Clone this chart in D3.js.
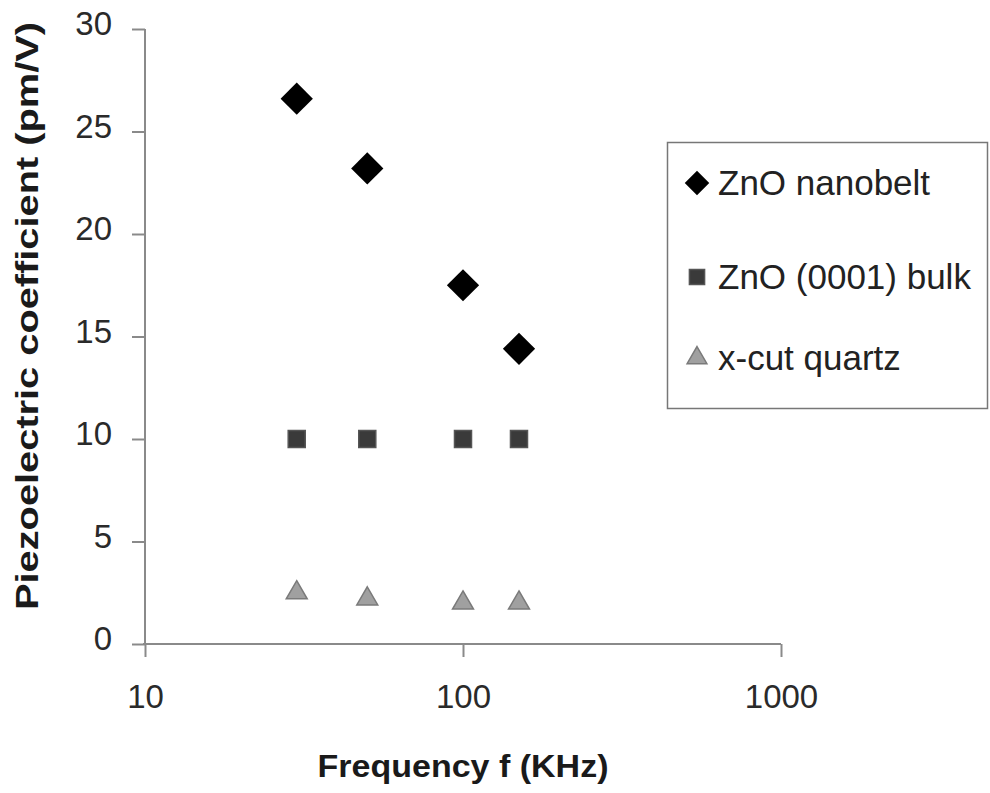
<!DOCTYPE html>
<html>
<head>
<meta charset="utf-8">
<script src="https://cdn.jsdelivr.net/npm/d3@7"></script>
<style>
  body { margin: 0; background: #fff; }
  svg text { font-family: "Liberation Sans", Arial, sans-serif; }
</style>
</head>
<body>
<script>
// Fréquences (KHz) et coefficients piézoélectriques (pm/V)
const frequencies = [30, 50, 100, 150]
const nanobelt = [26.6, 23.2, 17.5, 14.4]
const bulk = [10, 10, 10, 10]
const quartz = [2.5, 2.2, 2.0, 2.0]

const seriesNames = ["ZnO nanobelt", "ZnO (0001) bulk", "x-cut quartz"]
const yTicks = [0, 5, 10, 15, 20, 25, 30]
const xTicks = [10, 100, 1000]

const width = 990, height = 793
const margin = { top: 29, right: 209, bottom: 149, left: 145 }

const svg = d3.select("body")
    .append("svg")
    .attr("width", width)
    .attr("height", height)

const x = d3.scaleLog()
    .domain([10, 1000])
    .range([margin.left, width - margin.right])

const y = d3.scaleLinear()
    .domain([0, 30])
    .range([height - margin.bottom, margin.top])

// Axes
const axisColor = "#8a8a8a"
const yAxis = svg.append("g")
    .attr("transform", `translate(${margin.left},0)`)
    .call(d3.axisLeft(y).tickValues(yTicks).tickSize(13).tickPadding(20).tickFormat(d3.format("d")))
const xAxis = svg.append("g")
    .attr("transform", `translate(0,${height - margin.bottom})`)
    .call(d3.axisBottom(x).tickValues(xTicks).tickSize(13).tickPadding(28).tickFormat(d3.format("d")))

;[xAxis, yAxis].forEach(ax => {
    ax.select(".domain").attr("stroke", axisColor).attr("stroke-width", 2)
    ax.selectAll(".tick line").attr("stroke", axisColor).attr("stroke-width", 2)
    ax.selectAll(".tick text")
        .attr("fill", "#2a2a2a")
        .attr("font-family", "Liberation Sans, Arial, sans-serif")
        .style("font-size", "33px")
})
yAxis.selectAll(".tick text").attr("dy", "0.18em")
yAxis.select(".domain").attr("d", `M0,${y(30)}V${y(0)}`)
xAxis.select(".domain").attr("d", `M${x(10) - 2},0H${x(1000)}`)

// Titres des axes
svg.append("text")
    .attr("x", x(100))
    .attr("y", 777)
    .attr("text-anchor", "middle")
    .attr("font-weight", "bold")
    .attr("fill", "#1a1a1a")
    .attr("textLength", 291)
    .attr("lengthAdjust", "spacingAndGlyphs")
    .style("font-size", "31px")
    .text("Frequency f (KHz)")

svg.append("text")
    .attr("transform", `translate(38,316) rotate(-90)`)
    .attr("text-anchor", "middle")
    .attr("font-weight", "bold")
    .attr("fill", "#1a1a1a")
    .attr("textLength", 588)
    .attr("lengthAdjust", "spacingAndGlyphs")
    .style("font-size", "31px")
    .text("Piezoelectric coefficient (pm/V)")

// Marqueurs
const diamond = d3.symbol().type(d3.symbolSquare).size(520)
const square = d3.symbol().type(d3.symbolSquare).size(290)
const triangle = d3.symbol().type(d3.symbolTriangle).size(190)

const series = [
    { values: nanobelt, sym: diamond, fill: "#000", stroke: "none", rot: 45 },
    { values: bulk, sym: square, fill: "#3a3a3a", stroke: "#555", rot: 0 },
    { values: quartz, sym: triangle, fill: "#a0a0a0", stroke: "#7a7a7a", rot: 0 }
]

series.forEach(s => {
    svg.append("g")
        .selectAll("path")
        .data(s.values)
        .join("path")
        .attr("d", s.sym)
        .attr("transform", (d, i) => `translate(${x(frequencies[i])},${y(d)}) rotate(${s.rot})`)
        .attr("fill", s.fill)
        .attr("stroke", s.stroke)
        .attr("stroke-width", 1.5)
})

// Légende
const legend = svg.append("g")
legend.append("rect")
    .attr("x", 667.5).attr("y", 142.5)
    .attr("width", 320).attr("height", 266)
    .attr("fill", "#fff").attr("stroke", "#777").attr("stroke-width", 1.5)

const legendSyms = [
    d3.symbol().type(d3.symbolSquare).size(300),
    d3.symbol().type(d3.symbolSquare).size(230),
    d3.symbol().type(d3.symbolTriangle).size(170)
]
const legendY = [183, 277, 358]
seriesNames.forEach((name, i) => {
    legend.append("path")
        .attr("d", legendSyms[i])
        .attr("transform", `translate(697,${legendY[i]}) rotate(${series[i].rot})`)
        .attr("fill", series[i].fill)
        .attr("stroke", series[i].stroke)
        .attr("stroke-width", 1.5)
    legend.append("text")
        .attr("x", 718)
        .attr("y", legendY[i] + 12)
        .attr("fill", "#222")
        .style("font-size", "35px")
        .text(name)
})
</script>
</body>
</html>
